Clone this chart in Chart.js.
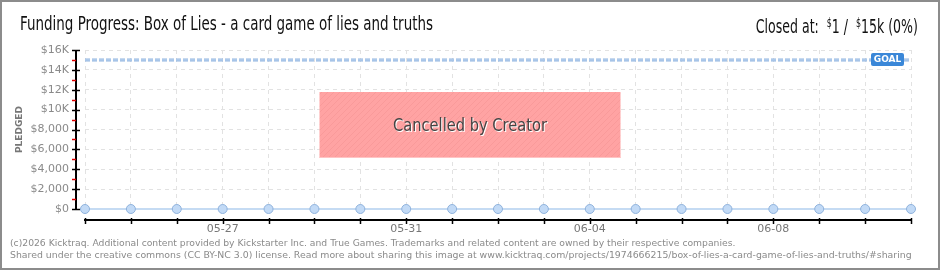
<!DOCTYPE html>
<html>
<head>
<meta charset="utf-8">
<script src="https://cdn.jsdelivr.net/npm/chart.js@4"></script>
<style>
  html, body { margin: 0; padding: 0; background: #fff; }
  #wrap { position: relative; width: 940px; height: 270px; overflow: hidden; }
  #wrap canvas { position: absolute; left: 0; top: 0; }
  #frame { position: absolute; left: 0; top: 0; width: 940px; height: 270px; box-sizing: border-box; border: 2px solid #8c8c8c; pointer-events: none; }
  .title { position: absolute; top: 12px; font-family: "Liberation Sans Narrow", "DejaVu Sans Condensed", sans-serif; font-size: 19px; color: #111; white-space: nowrap; line-height: 22px; }
  #titleLeft { left: 20px; transform-origin: left center; }
  #titleRight { right: 22px; transform-origin: right center; }
  #titleRight .cur { font-size: 12px; vertical-align: 6px; }
  .foot { position: absolute; left: 10px; font-family: "DejaVu Sans", sans-serif; font-size: 10px; color: #8a8a8a; white-space: nowrap; line-height: 12px; }
  #foot1 { top: 237px; }
  #foot2 { top: 249px; }
</style>
</head>
<body>
<div id="wrap">
  <canvas id="fundingChart" width="940" height="270"></canvas>
  <div class="title" id="titleLeft">Funding Progress: Box of Lies - a card game of lies and truths</div>
  <div class="title" id="titleRight">Closed at: &nbsp;<span class="cur">$</span>1 / &nbsp;<span class="cur">$</span>15k (0%)</div>
  <div class="foot" id="foot1">(c)2026 Kicktraq. Additional content provided by Kickstarter Inc. and True Games. Trademarks and related content are owned by their respective companies.</div>
  <div class="foot" id="foot2">Shared under the creative commons (CC BY-NC 3.0) license. Read more about sharing this image at www.kicktraq.com/projects/1974666215/box-of-lies-a-card-game-of-lies-and-truths/#sharing</div>
  <div id="frame"></div>
</div>
<script>
// Funding data

const dates = [
  "05-24", "05-25", "05-26", "05-27", "05-28", "05-29", "05-30",
  "05-31", "06-01", "06-02", "06-03", "06-04", "06-05", "06-06",
  "06-07", "06-08", "06-09", "06-10", "06-11",
];
const pledged = [0, 0, 0, 0, 0, 0, 0, 0, 0, 0, 0, 0, 0, 0, 0, 0, 0, 0, 1];
const shownDates = ["05-27", "05-31", "06-04", "06-08"];

const yTicks = [0, 2000, 4000, 6000, 8000, 10000, 12000, 14000, 16000];
const yTickLabels = ["$0", "$2,000", "$4,000", "$6,000", "$8,000", "$10K", "$12K", "$14K", "$16K"];
const goal = 15000;

// Stretch header / footer text to the widths in the picture
function fitWidth(id, width) {
  const el = document.getElementById(id);
  const size = parseFloat(getComputedStyle(el).fontSize);
  el.style.fontSize = (size * width) / el.getBoundingClientRect().width + "px";
}
function squeeze(id, width) {
  const el = document.getElementById(id);
  el.style.transform = "scaleX(" + width / el.getBoundingClientRect().width + ")";
}
squeeze("titleLeft", 413);
squeeze("titleRight", 162);
fitWidth("foot1", 727);
fitWidth("foot2", 903);

// Hatched fill for the "cancelled" banner
function hatchPattern(ctx) {
  const c = document.createElement("canvas");
  c.width = 6;
  c.height = 6;
  const p = c.getContext("2d");
  p.fillStyle = "#ffa3a3";
  p.fillRect(0, 0, 6, 6);
  p.strokeStyle = "#f99a9a";
  p.lineWidth = 1;
  p.beginPath();
  p.moveTo(0, 6);
  p.lineTo(6, 0);
  p.stroke();
  return ctx.createPattern(c, "repeat");
}

// Axes, goal line and banner drawn on top of the chart
const overlay = {
  id: "overlay",
  beforeDatasetsDraw(chart) {
    const { ctx, chartArea, scales } = chart;
    const gy = scales.y.getPixelForValue(goal);
    ctx.save();
    ctx.setLineDash([5, 2]);
    ctx.lineWidth = 3;
    ctx.strokeStyle = "#8fb4e0";
    ctx.beginPath();
    ctx.moveTo(chartArea.left, gy);
    ctx.lineTo(chartArea.right, gy);
    ctx.stroke();
    ctx.lineWidth = 1;
    ctx.strokeStyle = "#c4d9f2";
    ctx.beginPath();
    ctx.moveTo(chartArea.left, gy);
    ctx.lineTo(chartArea.right, gy);
    ctx.stroke();
    ctx.restore();
  },
  afterDatasetsDraw(chart) {
    const { ctx, chartArea, scales } = chart;
    const y = scales.y;
    const x = scales.x;
    ctx.save();

    // y axis line with ticks
    const ax = chartArea.left - 9;
    ctx.strokeStyle = "#000";
    ctx.lineWidth = 2;
    ctx.beginPath();
    ctx.moveTo(ax, chartArea.top);
    ctx.lineTo(ax, chartArea.bottom + 1);
    ctx.stroke();
    ctx.lineWidth = 1.5;
    yTicks.forEach((v) => {
      const py = Math.round(y.getPixelForValue(v)) + 0.5;
      ctx.strokeStyle = "#000";
      ctx.beginPath();
      ctx.moveTo(ax - 4, py);
      ctx.lineTo(ax + 4, py);
      ctx.stroke();
      if (v < 16000) {
        const my = Math.round(y.getPixelForValue(v + 1000)) + 0.5;
        ctx.strokeStyle = "#e00000";
        ctx.beginPath();
        ctx.moveTo(ax - 4, my);
        ctx.lineTo(ax, my);
        ctx.stroke();
      }
    });

    // x axis line with ticks
    const bx = chartArea.bottom + 11;
    ctx.strokeStyle = "#000";
    ctx.lineWidth = 2;
    ctx.beginPath();
    ctx.moveTo(chartArea.left - 1, bx);
    ctx.lineTo(chartArea.right + 1, bx);
    ctx.stroke();
    ctx.lineWidth = 1.5;
    dates.forEach((d, i) => {
      const px = Math.round(x.getPixelForValue(i)) + 0.5;
      ctx.beginPath();
      ctx.moveTo(px, bx - 2);
      ctx.lineTo(px, bx + 4);
      ctx.stroke();
    });

    // GOAL tag
    const gy = y.getPixelForValue(goal);
    const tagX = chartArea.right - 40;
    ctx.fillStyle = "#3a87d8";
    ctx.beginPath();
    ctx.roundRect(tagX, gy - 7, 33, 13, 2);
    ctx.fill();
    ctx.fillStyle = "#fff";
    ctx.font = "bold 9px 'DejaVu Sans', sans-serif";
    ctx.textAlign = "center";
    ctx.textBaseline = "middle";
    ctx.fillText("GOAL", tagX + 16.5, gy);

    // Cancelled banner
    const bw = 301;
    const bh = 66;
    const bLeft = chart.width / 2 - bw / 2;
    const bTop = chartArea.top + 42;
    ctx.fillStyle = hatchPattern(ctx);
    ctx.fillRect(bLeft, bTop, bw, bh);
    ctx.fillStyle = "#ffc4c4";
    ctx.fillRect(bLeft, bTop + bh - 1, bw, 1);

    const label = "Cancelled by Creator";
    const cx = bLeft + bw / 2;
    const cy = bTop + bh / 2 + 1;
    ctx.font = "18px 'Liberation Sans Narrow', 'DejaVu Sans Condensed', sans-serif";
    const sx = 154 / ctx.measureText(label).width;
    ctx.translate(cx, cy);
    ctx.scale(sx, 1);
    ctx.fillStyle = "#ffffff";
    ctx.fillText(label, 1, 1);
    ctx.fillStyle = "#444444";
    ctx.fillText(label, 0, 0);

    ctx.restore();
  },
};

const ctx = document.getElementById("fundingChart").getContext("2d");

const fundingChart = new Chart(ctx, {
  type: "line",
  data: {
    labels: dates,
    datasets: [
      {
        label: "Pledged",
        data: pledged,
        borderColor: "#c5dbf3",
        borderWidth: 2,
        fill: false,
        tension: 0,
        pointRadius: 4.5,
        pointBackgroundColor: "#c2daf6",
        pointBorderColor: "#8fb2dc",
        pointBorderWidth: 1,
        clip: false,
      },
    ],
  },
  options: {
    responsive: false,
    animation: false,
    devicePixelRatio: 1,
    layout: {
      padding: { top: 50, right: 29, bottom: 31, left: 0 },
    },
    plugins: {
      legend: { display: false },
      tooltip: { enabled: false },
      title: { display: false },
    },
    scales: {
      y: {
        min: 0,
        max: 16000,
        afterFit: (s) => {
          s.width = 85;
        },
        ticks: {
          stepSize: 2000,
          padding: 16,
          color: "#8a8a8a",
          font: { family: "'DejaVu Sans', sans-serif", size: 11 },
          callback: (v) => yTickLabels[yTicks.indexOf(v)],
        },
        grid: {
          color: "#e2e2e2",
          drawTicks: false,
        },
        border: { display: false, dash: [4, 4] },
        title: {
          display: true,
          text: "PLEDGED",
          color: "#777",
          padding: { top: 14, bottom: 0 },
          font: { family: "'DejaVu Sans', sans-serif", size: 9, weight: "bold" },
        },
      },
      x: {
        afterFit: (s) => {
          s.height = 30;
        },
        ticks: {
          autoSkip: false,
          maxRotation: 0,
          padding: 14,
          color: "#777",
          font: { family: "'DejaVu Sans', sans-serif", size: 11 },
          callback: (v, i) => (shownDates.includes(dates[i]) ? dates[i] : ""),
        },
        grid: {
          color: "#e2e2e2",
          drawTicks: false,
        },
        border: { display: false, dash: [4, 4] },
      },
    },
  },
  plugins: [overlay],
});
</script>
</body>
</html>
